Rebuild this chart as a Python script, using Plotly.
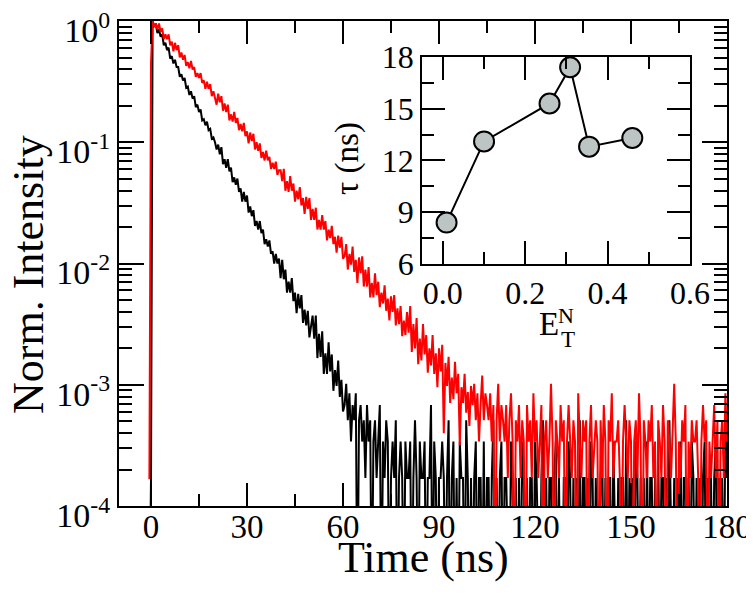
import numpy as np
import plotly.graph_objects as go

# ---------------- main panel data (TCSPC decays) ----------------
T_START = -0.5      # ns, first channel
T_STEP = 0.5        # ns per channel
COUNT_UNIT = 1.7e-4 # normalised intensity of one photon count in the tail
ZERO_DRAW = 1e-5    # zero-count channels are drawn below the axis floor

# log10(normalised intensity), t = -0.5 ... 60.0 ns
black_decay_log10 = [
    -5, -3.78, 0.0,
    -0.04, -0.03, -0.10, -0.07, -0.13, -0.11, -0.20, -0.18, -0.24, -0.22,
    -0.31, -0.29, -0.35, -0.32, -0.38, -0.38, -0.46, -0.44, -0.49, -0.47,
    -0.55, -0.54, -0.61, -0.58, -0.64, -0.62, -0.71, -0.69, -0.75, -0.73,
    -0.82, -0.81, -0.86, -0.83, -0.90, -0.89, -0.97, -0.96, -1.00,
    -1.06, -1.02, -1.10, -1.04, -1.18, -1.14, -1.21, -1.14, -1.24, -1.21,
    -1.33, -1.29, -1.35, -1.30, -1.41, -1.38, -1.49, -1.41, -1.49, -1.44,
    -1.58, -1.53, -1.61, -1.56, -1.69, -1.65, -1.72, -1.65, -1.75, -1.72,
    -1.84, -1.80, -1.86, -1.81, -1.92, -1.90, -2.00, -1.92, -2.00, -1.96,
    -2.12, -1.97, -2.13, -2.05, -2.24, -2.15, -2.24, -2.12, -2.31, -2.24,
    -2.41, -2.25, -2.37, -2.26, -2.49, -2.38, -2.51, -2.39, -2.61, -2.52,
    -2.43, -2.62, -2.43, -2.78, -2.58, -2.77, -2.56, -2.91, -2.74, -2.91,
    -2.65, -2.89, -2.75, -3.05, -2.88, -3.01, -2.80, -3.10, -2.96, -3.22,
]
# photon counts per channel, t = 60.5 ... 180.0 ns
black_tail_counts = [
    4, 6, 3, 5, 2, 4, 3, 5, 0, 3,  4, 2, 3, 1, 4, 2, 3, 0, 2, 3,
    1, 2, 4, 0, 2, 1, 3, 2, 0, 1,  2, 1, 3, 0, 1, 2, 1, 0, 2, 1,
    1, 2, 0, 1, 3, 1, 0, 2, 1, 1,  2, 0, 1, 1, 4, 0, 2, 1, 0, 1,
    1, 2, 1, 0, 1, 3, 0, 1, 2, 0,  1, 0, 2, 1, 1, 0, 3, 1, 0, 1,
    0, 1, 2, 0, 1, 1, 0, 2, 0, 1,  1, 0, 1, 3, 0, 1, 0, 1, 2, 0,
    1, 1, 0, 0, 2, 1, 0, 1, 0, 1,  0, 2, 1, 0, 1, 0, 1, 1, 0, 2,
    1, 0, 0, 1, 3, 0, 1, 0, 1, 1,  0, 1, 2, 0, 1, 0, 0, 1, 1, 0,
    2, 1, 0, 1, 0, 1, 0, 3, 0, 1,  1, 0, 1, 0, 2, 1, 0, 1, 0, 0,
    1, 2, 0, 1, 0, 1, 1, 0, 2, 0,  0, 1, 0, 1, 1, 0, 3, 0, 1, 0,
    1, 0, 2, 1, 0, 1, 0, 1, 0, 2,  0, 1, 1, 0, 1, 0, 2, 0, 1, 1,
    0, 1, 0, 3, 1, 0, 1, 0, 1, 0,  2, 0, 1, 1, 0, 1, 0, 2, 1, 0,
    1, 0, 1, 0, 1, 2, 0, 1, 0, 1,  0, 1, 2, 0, 1, 0, 1, 0, 3, 1,
]

# log10(normalised intensity), t = -0.5 ... 100.0 ns
red_decay_log10 = [
    -3.78, -0.35, 0.0,
    -0.05, -0.02, -0.07, -0.02, -0.09, -0.06, -0.15, -0.11, -0.15, -0.11,
    -0.20, -0.17, -0.25, -0.18, -0.24, -0.20, -0.30, -0.26, -0.32, -0.28,
    -0.37, -0.34, -0.39, -0.33, -0.40, -0.38, -0.46, -0.43, -0.47, -0.43,
    -0.51, -0.49, -0.56, -0.50, -0.56, -0.52, -0.62, -0.58, -0.64,
    -0.69, -0.60, -0.67, -0.62, -0.74, -0.68, -0.75, -0.69, -0.82, -0.77,
    -0.83, -0.75, -0.84, -0.80, -0.90, -0.85, -0.91, -0.84, -0.95, -0.91,
    -1.01, -0.92, -0.99, -0.93, -1.06, -1.00, -1.07, -1.01, -1.13, -1.08,
    -1.15, -1.07, -1.15, -1.12, -1.22, -1.17, -1.22, -1.16, -1.27, -1.23,
    -1.23, -1.32, -1.22, -1.40, -1.32, -1.41, -1.28, -1.40, -1.34, -1.49,
    -1.40, -1.47, -1.37, -1.52, -1.46, -1.59, -1.45, -1.55, -1.46, -1.64,
    -1.55, -1.64, -1.54, -1.72, -1.64, -1.72, -1.60, -1.72, -1.65, -1.81,
    -1.72, -1.79, -1.69, -1.84, -1.78, -1.91, -1.77, -1.87, -1.78, -1.96,
    -1.94, -1.84, -2.05, -1.92, -2.01, -1.86, -2.07, -1.97, -2.16, -1.95,
    -2.08, -1.94, -2.19, -2.05, -2.19, -2.03, -2.28, -2.16, -2.28, -2.08,
    -2.26, -2.15, -2.36, -2.24, -2.33, -2.18, -2.39, -2.29, -2.47, -2.27,
    -2.40, -2.26, -2.51, -2.37, -2.50, -2.35, -2.60, -2.47, -2.59, -2.40,
    -2.57, -2.35, -2.73, -2.50, -2.70, -2.45, -2.83, -2.62, -2.80, -2.50,
    -2.75, -2.59, -2.90, -2.70, -2.84, -2.59, -2.91, -2.74, -3.02, -2.70,
    -2.89, -2.67, -3.40, -2.82, -3.01, -2.77, -3.15, -2.94, -3.12, -2.81,
    -3.07, -2.91, -3.50, -3.02, -3.15, -2.91, -3.23, -3.06, -3.34, -3.01,
]
# photon counts per channel, t = 100.5 ... 180.0 ns
red_tail_counts = [
    4, 6, 3, 5, 2, 4, 7, 3, 5, 4,  3, 5, 2, 4, 0, 3, 6, 2, 4, 3,
    2, 4, 1, 3, 5, 2, 0, 3, 2, 4,  1, 3, 2, 0, 4, 2, 3, 1, 5, 2,
    3, 1, 2, 4, 0, 2, 3, 1, 2, 6,  2, 0, 3, 2, 1, 4, 2, 3, 0, 2,
    4, 2, 1, 3, 2, 0, 5, 2, 1, 3,  2, 3, 0, 2, 4, 1, 2, 3, 2, 0,
    3, 1, 4, 2, 0, 3, 2, 5, 1, 2,  2, 3, 1, 0, 2, 4, 2, 1, 3, 2,
    0, 2, 3, 1, 5, 2, 0, 3, 2, 1,  3, 2, 4, 1, 2, 0, 3, 2, 1, 4,
    2, 0, 3, 2, 1, 3, 6, 2, 0, 2,  1, 3, 2, 4, 0, 2, 1, 3, 2, 2,
    3, 1, 0, 2, 4, 2, 3, 0, 2, 1,  2, 4, 1, 3, 0, 2, 3, 1, 5, 2,
]

x_tick_vals = [0, 30, 60, 90, 120, 150, 180]
y_tick_vals = [1e-4, 1e-3, 1e-2, 1e-1, 1]
y_tick_text = ["10<sup>-4</sup>", "10<sup>-3</sup>", "10<sup>-2</sup>",
               "10<sup>-1</sup>", "10<sup>0</sup>"]

# ---------------- inset data ----------------
et_n = [0.009, 0.100, 0.259, 0.309, 0.355, 0.460]
tau_ns = [8.4, 13.1, 15.3, 17.4, 12.8, 13.3]


def build(decay_log, tail_counts):
    y = [10 ** v for v in decay_log]
    y += [c * COUNT_UNIT if c > 0 else ZERO_DRAW for c in tail_counts]
    t = T_START + T_STEP * np.arange(len(y))
    return t, y


tb, yb = build(black_decay_log10, black_tail_counts)
tr, yr = build(red_decay_log10, red_tail_counts)

FONT = "Liberation Serif, Times New Roman, serif"

fig = go.Figure()
fig.add_trace(go.Scatter(x=tb, y=yb, mode="lines",
                         line=dict(color="black", width=2), showlegend=False))
fig.add_trace(go.Scatter(x=tr, y=yr, mode="lines",
                         line=dict(color="#ff0000", width=2), showlegend=False))
fig.add_trace(go.Scatter(x=et_n, y=tau_ns, mode="lines+markers",
                         xaxis="x2", yaxis="y2",
                         line=dict(color="black", width=2),
                         marker=dict(size=20, color="#bcc4c4",
                                     line=dict(color="black", width=2)),
                         showlegend=False))

axis_common = dict(showline=True, linecolor="black", linewidth=2, mirror="ticks",
                   ticks="inside", tickcolor="black", tickwidth=2,
                   showgrid=False, zeroline=False, automargin=False,
                   ticklabeloverflow="allow")

# the page body adds an 8 px offset, so the figure is 8 px smaller than the window
fig.update_layout(
    width=746, height=587,
    margin=dict(l=111, r=27, t=13, b=89),
    paper_bgcolor="white", plot_bgcolor="white",
    font=dict(family=FONT, color="black"),
    xaxis=dict(**axis_common, range=[-10, 180], tickmode="array",
               tickvals=x_tick_vals, ticklen=23, ticklabelstandoff=-10,
               tickfont=dict(family=FONT, size=33),
               minor=dict(ticks="inside", ticklen=12, tickwidth=2, tickcolor="black",
                          tick0=0, dtick=15, showgrid=False)),
    yaxis=dict(**axis_common, type="log", range=[-4, 0], tickmode="array",
               tickvals=y_tick_vals, ticktext=y_tick_text, ticklen=25,
               ticklabelshift=9,
               tickfont=dict(family=FONT, size=34),
               minor=dict(ticks="inside", ticklen=13, tickwidth=2, tickcolor="black",
                          dtick="D1", showgrid=False)),
    xaxis2=dict(**axis_common, domain=[0.4988, 0.9391], anchor="y2",
                range=[-0.05, 0.6], tick0=0, dtick=0.2, tickformat=".1f",
                ticklen=23, tickfont=dict(family=FONT, size=32),
                minor=dict(ticks="inside", ticklen=12, tickwidth=2, tickcolor="black",
                           tick0=0, dtick=0.1, showgrid=False)),
    yaxis2=dict(**axis_common, domain=[0.499, 0.926], anchor="x2",
                range=[6, 18], tick0=6, dtick=3, ticklen=23,
                tickfont=dict(family=FONT, size=32),
                minor=dict(ticks="inside", ticklen=12, tickwidth=2, tickcolor="black",
                           tick0=6, dtick=1.5, showgrid=False)),
    annotations=[
        dict(text="Time (ns)", xref="paper", yref="paper", x=0.5, y=-0.107,
             showarrow=False, font=dict(family=FONT, size=44),
             xanchor="center", yanchor="middle"),
        dict(text="Norm. Intensity", xref="paper", yref="paper", x=-0.150, y=0.478,
             textangle=-90, showarrow=False, font=dict(family=FONT, size=44),
             xanchor="center", yanchor="middle"),
        dict(text="\u03c4 (ns)", xref="paper", yref="paper", x=0.377, y=0.716,
             textangle=-90, showarrow=False, font=dict(family=FONT, size=33),
             xanchor="center", yanchor="middle"),
        dict(text="E", xref="paper", yref="paper", x=0.7072, y=0.3753,
             showarrow=False, font=dict(family=FONT, size=33),
             xanchor="center", yanchor="middle"),
        dict(text="N", xref="paper", yref="paper", x=0.7360, y=0.3928,
             showarrow=False, font=dict(family=FONT, size=22),
             xanchor="center", yanchor="middle"),
        dict(text="T", xref="paper", yref="paper", x=0.7377, y=0.3433,
             showarrow=False, font=dict(family=FONT, size=23),
             xanchor="center", yanchor="middle"),
    ],
)

fig.write_html("out.html")
